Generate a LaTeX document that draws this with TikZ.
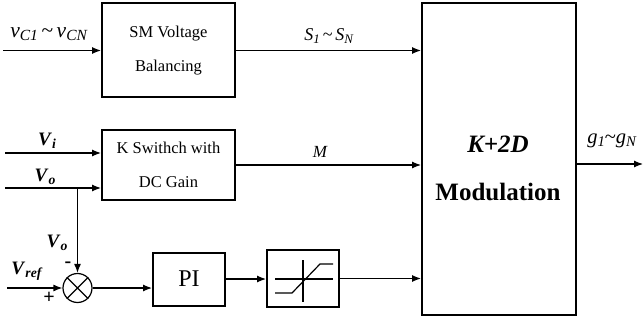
\documentclass[tikz,border=0pt]{standalone}
\usepackage{fontspec}
\usepackage{graphicx}
\setmainfont{Liberation Serif}
\usetikzlibrary{arrows.meta}
\newcommand{\lsub}[1]{\raisebox{-0.35ex}{\scalebox{0.72}{#1}}}
\newcommand{\bvar}[2]{\textbf{\textit{#1}}\lsub{\textbf{\textit{#2}}}}
\newcommand{\ivar}[2]{\textit{#1}\lsub{\textit{#2}}}
\tikzset{
  blk/.style={draw, line width=2pt, inner sep=0pt},
  arr/.style={-{Latex[length=9pt,width=7pt]}, line width=1.2pt},
  ln/.style={line width=1.2pt},
  boxtext/.style={font=\fontsize{16.5}{33.5}\selectfont, align=center},
  lab/.style={inner sep=0pt},
}
\begin{document}
\begin{tikzpicture}[x=1pt,y=-1pt]
\useasboundingbox (0,0) rectangle (644,323);
% blocks
\node[blk, boxtext, minimum width=133pt, minimum height=94pt] (sm) at (168.5,50.5) {SM Voltage\\Balancing};
\node[blk, boxtext, minimum width=133pt, minimum height=70pt] (ks) at (168.5,165) {K Swithch with\\DC Gain};
\node[blk, minimum width=154pt, minimum height=312pt] (mod) at (499,159) {};
\node[blk, circle, minimum size=29pt, line width=1.2pt] (sum) at (77.5,288) {};
\node[blk, minimum width=72pt, minimum height=53pt, font=\fontsize{24}{26}\selectfont] (pi) at (189,279) {PI};
\node[blk, minimum width=72pt, minimum height=57pt] (sat) at (303,278.5) {};
% summing junction cross
\draw[ln] (sum.north west) -- (sum.south east) (sum.north east) -- (sum.south west);
% saturation symbol
\begin{scope}[shift={(sat.center)}]
  \draw[ln] (-28,0.5) -- (30,0.5);
  \draw[ln] (0,-18.5) -- (0,23.5);
  \draw[ln] (-28,14.5) -- (-11,14.5) -- (17,-14.5) -- (30,-14.5);
\end{scope}
% modulation text
\node[lab, font=\fontsize{25}{28}\selectfont\bfseries\itshape] (lk) at (498,144) {K+2D};
\node[lab, font=\fontsize{25}{28}\selectfont\bfseries] (lmod) at (498,192) {Modulation};
% input coordinates
\coordinate (vin) at (3,50.5);
\coordinate (vi) at (5,153);
\coordinate (vo) at (5,188);
\coordinate (br) at (77.5,188);
\coordinate (vref) at (7,288);
\coordinate (out) at (643,164);
% connectors
\draw[arr] (vin) -- (vin -| sm.west);
\draw[arr] (sm.east) -- (sm.east -| mod.west);
\draw[arr] (vi) -- (vi -| ks.west);
\draw[arr] (vo) -- (vo -| ks.west);
\draw[arr] (ks.east) -- (ks.east -| mod.west);
\draw[arr] (br) -- (sum.north);
\draw[arr] (vref) -- (sum.west);
\draw[arr] (sum.east) -- (sum.east -| pi.west);
\draw[arr] (pi.east) -- (pi.east -| sat.west);
\draw[arr] (sat.east) -- (sat.east -| mod.west);
\draw[arr] (out -| mod.east) -- (out);
% labels
\node[lab, font=\fontsize{21.5}{24}\selectfont] (lvc) at (49,34) {\ivar{v}{C1}\,\textasciitilde\,\ivar{v}{CN}};
\node[lab, font=\fontsize{18}{20}\selectfont] (ls) at (329,36) {\ivar{S}{1}\,\textasciitilde\,\ivar{S}{N}};
\node[lab, font=\fontsize{17}{20}\selectfont\itshape] (lm) at (320,152) {M};
\node[lab, font=\fontsize{20.5}{22}\selectfont] (lg) at (612,141) {\ivar{g}{1}\textasciitilde\ivar{g}{N}};
\node[lab, font=\fontsize{19}{22}\selectfont] (lvi) at (47,141) {\bvar{V}{i}};
\node[lab, font=\fontsize{19}{22}\selectfont] (lvo) at (45,177) {\bvar{V}{o}};
\node[lab, font=\fontsize{19}{22}\selectfont] (lvo2) at (57,243) {\bvar{V}{o}};
\node[lab, font=\fontsize{19}{22}\selectfont] (lvref) at (27,271) {\bvar{V}{ref}};
\node[lab, font=\fontsize{20}{22}\selectfont\bfseries] (lminus) at (68,265) {-};
\node[lab, font=\fontsize{20}{22}\selectfont\bfseries] (lplus) at (49,298) {+};
\end{tikzpicture}
\end{document}
